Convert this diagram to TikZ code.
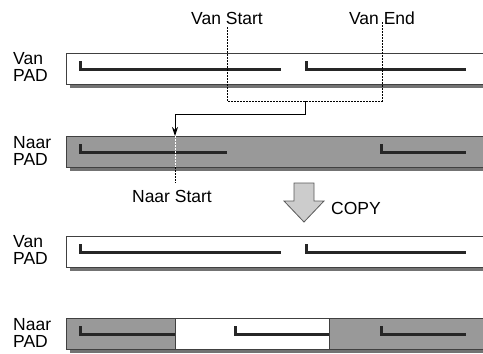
\documentclass[tikz,border=0pt]{standalone}
\usepackage{fontspec}
\setmainfont{Liberation Sans}
\usetikzlibrary{arrows.meta, shadows}

\begin{document}
\begin{tikzpicture}[
    x=1pt, y=-1pt,
    bar/.style={draw=black!75, line width=1pt, fill=#1, anchor=north west, inner sep=0pt,
        minimum width=430pt, minimum height=31pt,
        drop shadow={shadow xshift=3pt, shadow yshift=-3pt, fill=black!55, opacity=1}},
    track/.style={draw=black!85, line width=3pt},
    dotline/.style={line width=0.9pt, dash pattern=on 1.6pt off 1.4pt},
    lbl/.style={font=\fontsize{17.5}{16.5}\selectfont, inner sep=0pt},
    padlbl/.style={lbl, align=left, anchor=west},
]
\useasboundingbox (0,0) rectangle (483,354);
\clip (0,0) rectangle (483,354);

% source and destination before the copy
\node[bar=white] (van1) at (66,53) {};
\node[padlbl] (vanlbl1) at (13,67) {Van\\PAD};
\draw[track] (80,61) |- (281,69);
\draw[track] (306,61) |- (466,69);

\node[bar=black!40] (naar1) at (66,136) {};
\node[padlbl] (naarlbl1) at (13,151) {Naar\\PAD};
\draw[track] (80,144) |- (227,152);
\draw[track] (381,144) |- (466,152);

% selection markers
\node[lbl] (vanstart) at (227,18) {Van Start};
\node[lbl] (vanend) at (382,18) {Van End};
\coordinate (sel) at (305,101);
\coordinate (naarstart) at (175,136);
\draw[dotline] (vanstart.south) ++(0,3) |- (sel) -| ([yshift=3pt]vanend.south);
\draw[line width=1pt, -{Stealth[length=9pt, width=6pt]}] (sel) -- ++(0,13) -| (naarstart);
\draw[dotline, white] (naarstart) -- (175,167);
\draw[dotline] (175,167) -- (175,183);
\node[lbl] (naarstartlbl) at (172,196) {Naar Start};

% copy step
\draw[draw=black!65, fill=black!20, line width=0.8pt]
    (294,183) -- (314,183) -- (314,201) -- (324,201) -- (304,222)
    -- (284,201) -- (294,201) -- cycle;
\node[lbl, anchor=west] (copy) at (331,208) {COPY};

% result after the copy
\node[bar=white] (van2) at (66,236) {};
\node[padlbl] (vanlbl2) at (13,250) {Van\\PAD};
\draw[track] (80,244) |- (281,252);
\draw[track] (306,244) |- (466,252);

\node[bar=black!40] (naar2) at (66,318) {};
\node[padlbl] (naarlbl2) at (13,333) {Naar\\PAD};
\draw[draw=black!75, line width=1pt, fill=white] (175,318) rectangle (329,349);
\draw[track] (80,326) |- (175,334);
\draw[track] (235,326) |- (329,334);
\draw[track] (381,326) |- (466,334);

\end{tikzpicture}
\end{document}
